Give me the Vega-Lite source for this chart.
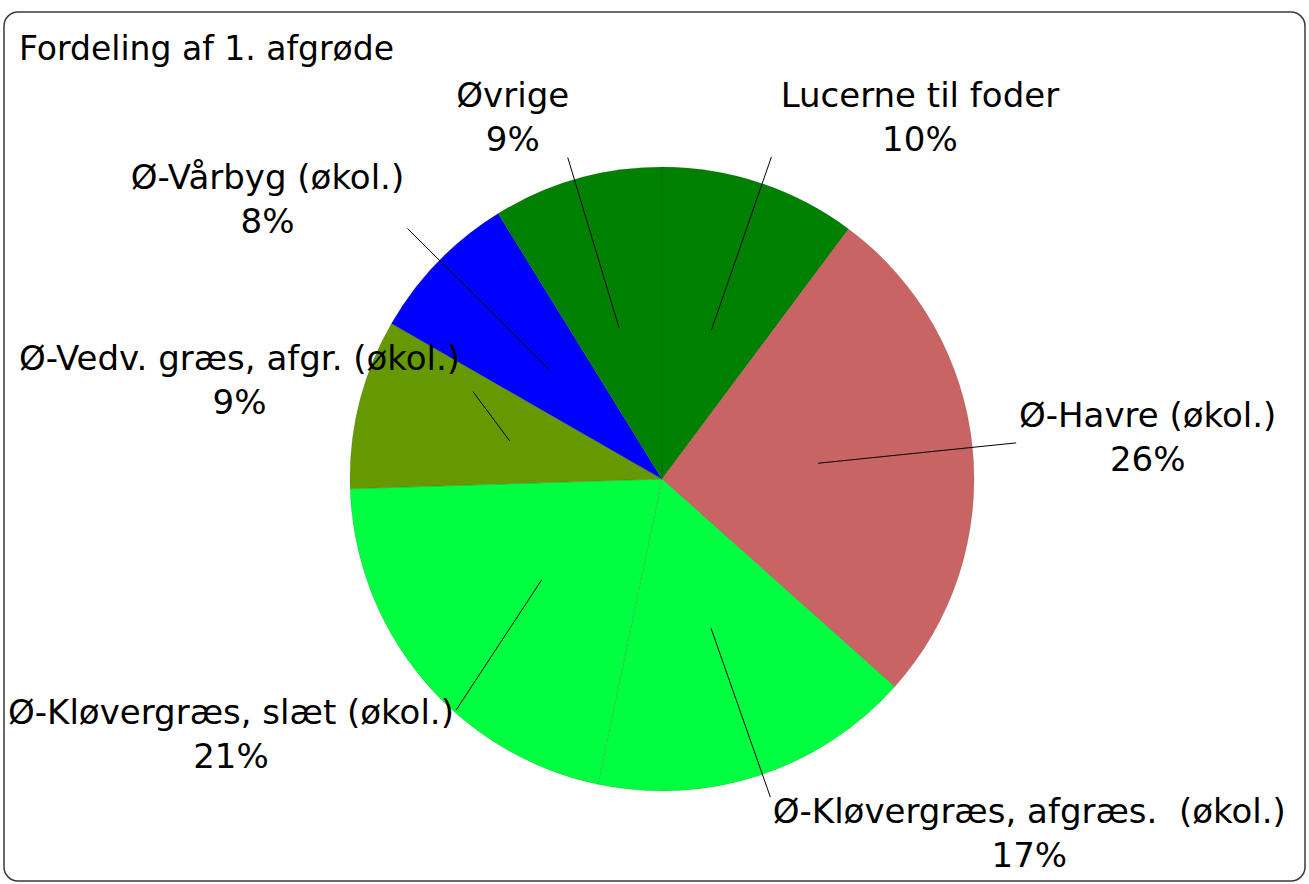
{
  "$schema": "https://vega.github.io/schema/vega-lite/v6.json",
  "autosize": "none",
  "width": 1301,
  "height": 869,
  "padding": {"left": 4, "top": 12, "right": 4, "bottom": 3},
  "background": "white",
  "layer": [
    {
      "data": {
        "values": [
          {"name": "Lucerne til foder", "value": 10.2},
          {"name": "Ø-Havre (økol.)", "value": 26.4},
          {"name": "Ø-Kløvergræs, afgræs.  (økol.)", "value": 16.7},
          {"name": "Ø-Kløvergræs, slæt (økol.)", "value": 21.2},
          {"name": "Ø-Vedv. græs, afgr. (økol.)", "value": 8.8},
          {"name": "Ø-Vårbyg (økol.)", "value": 7.9},
          {"name": "Øvrige", "value": 8.8}
        ]
      },
      "transform": [
        {"window": [{"op": "sum", "field": "value", "as": "v1"}], "frame": [null, 0]},
        {"calculate": "datum.v1 - datum.value", "as": "v0"},
        {"calculate": "(datum.v0 + datum.v1) / 2", "as": "mid"},
        {"calculate": "datum.mid * PI / 50", "as": "th"},
        {"calculate": "sin(datum.th)", "as": "s"},
        {"calculate": "cos(datum.th)", "as": "c"},
        {"calculate": "datum.s >= 0 ? 1 : -1", "as": "sg"},
        {"calculate": "length(datum.name) * 17", "as": "w"},
        {"calculate": "clamp(360 * datum.s + datum.sg * datum.w / 2, -652 + datum.w / 2, 637 - datum.w / 2)", "as": "lx"},
        {"calculate": "clamp(400 * datum.c, -356, 360)", "as": "ly"},
        {"calculate": "datum.ly + 22", "as": "ty"},
        {"calculate": "157 * datum.s", "as": "ax"},
        {"calculate": "157 * datum.c", "as": "ay"},
        {"calculate": "datum.lx - datum.sg * (datum.w / 2 + 4)", "as": "ex"},
        {"calculate": "datum.ly - 40 * datum.c", "as": "ey"},
        {"calculate": "replace(datum.name, '  ', '\u00a0 ') + '\\n' + format(datum.value, '.0f') + '%'", "as": "label"}
      ],
      "layer": [
        {
          "mark": {"type": "arc", "radius": 312, "stroke": "#000000", "strokeOpacity": 0.12, "strokeWidth": 1},
          "encoding": {
            "x": {"datum": 0, "type": "quantitative", "scale": {"domain": [-658, 643], "nice": false, "zero": false}, "axis": null},
            "y": {"datum": 0, "type": "quantitative", "scale": {"domain": [-402, 467], "nice": false, "zero": false}, "axis": null},
            "theta": {"field": "v0", "type": "quantitative", "scale": {"domain": [0, 100]}},
            "theta2": {"field": "v1"},
            "color": {
              "field": "name",
              "type": "nominal",
              "legend": null,
              "scale": {
                "domain": ["Lucerne til foder", "Ø-Havre (økol.)", "Ø-Kløvergræs, afgræs.  (økol.)", "Ø-Kløvergræs, slæt (økol.)", "Ø-Vedv. græs, afgr. (økol.)", "Ø-Vårbyg (økol.)", "Øvrige"],
                "range": ["#008000", "#C86464", "#00FF40", "#00FF40", "#669900", "#0000FF", "#008000"]
              }
            }
          }
        },
        {
          "mark": {"type": "rule", "color": "#000000", "strokeWidth": 1},
          "encoding": {
            "x": {"field": "ax", "type": "quantitative", "scale": {"domain": [-658, 643], "nice": false, "zero": false}, "axis": null},
            "y": {"field": "ay", "type": "quantitative", "scale": {"domain": [-402, 467], "nice": false, "zero": false}, "axis": null},
            "x2": {"field": "ex"},
            "y2": {"field": "ey"}
          }
        },
        {
          "mark": {"type": "text", "font": "DejaVu Sans", "fontSize": 34, "lineHeight": 44, "lineBreak": "\n", "align": "center", "baseline": "middle", "color": "#000000"},
          "encoding": {
            "x": {"field": "lx", "type": "quantitative", "scale": {"domain": [-658, 643], "nice": false, "zero": false}, "axis": null},
            "y": {"field": "ty", "type": "quantitative", "scale": {"domain": [-402, 467], "nice": false, "zero": false}, "axis": null},
            "text": {"field": "label"}
          }
        }
      ]
    },
    {
      "data": {"values": [{"title": "Fordeling af 1. afgrøde"}]},
      "mark": {"type": "text", "font": "DejaVu Sans", "fontSize": 33, "align": "left", "baseline": "alphabetic", "color": "#000000"},
      "encoding": {
        "x": {"datum": -643, "type": "quantitative", "scale": {"domain": [-658, 643], "nice": false, "zero": false}, "axis": null},
        "y": {"datum": 419, "type": "quantitative", "scale": {"domain": [-402, 467], "nice": false, "zero": false}, "axis": null},
        "text": {"field": "title"}
      }
    }
  ],
  "config": {
    "view": {"stroke": "#3a3a3a", "strokeWidth": 1.5, "cornerRadius": 14},
    "font": "DejaVu Sans"
  }
}
